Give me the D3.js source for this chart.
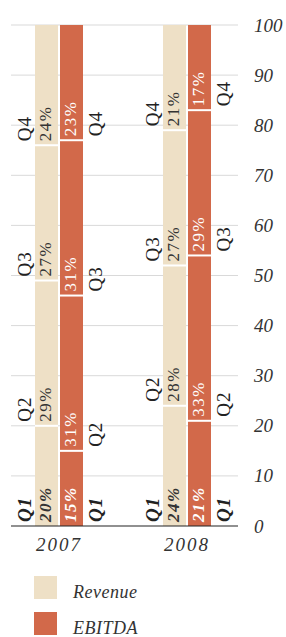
<!DOCTYPE html>
<html>
<head>
<meta charset="utf-8">
<script src="https://cdn.jsdelivr.net/npm/d3@7"></script>
<style>
  body { margin: 0; background: #fff; }
  svg { display: block; font-family: "Liberation Serif", serif; font-style: italic; }
</style>
</head>
<body>
<svg id="chart"></svg>
<script>
// Données
const years = ["2007", "2008"];
const series = ["Revenue", "EBITDA"];
const quarters = ["Q1", "Q2", "Q3", "Q4"];
const revenue = [[20, 29, 27, 24], [24, 28, 27, 21]];
const ebitda = [[15, 31, 31, 23], [21, 33, 29, 17]];
const yTicks = [0, 10, 20, 30, 40, 50, 60, 70, 80, 90, 100];

const colors = { Revenue: "#eee0c6", EBITDA: "#d2694a" };
const width = 286, height = 637;

const svg = d3.select("#chart")
    .attr("width", width)
    .attr("height", height);

// Échelles
const y = d3.scaleLinear().domain([0, 100]).range([526, 25]);
const x0 = d3.scaleBand().domain(years).range([35, 211]).paddingInner(0.625);
const x1 = d3.scaleBand().domain(series).range([0, x0.bandwidth()]).paddingInner(0.08);

// Grille
svg.append("g").selectAll("line")
    .data(yTicks.filter(t => t > 0))
    .join("line")
    .attr("x1", 11).attr("x2", 238)
    .attr("y1", d => y(d)).attr("y2", d => y(d))
    .attr("stroke", "#d9d9d9").attr("stroke-width", 1);

// Axe de droite
const axis = svg.append("g")
    .attr("transform", "translate(246,0)")
    .call(d3.axisRight(y).tickValues(yTicks).tickSize(0).tickPadding(8));
axis.select(".domain").remove();
axis.selectAll("text")
    .attr("font-family", "Liberation Serif, serif")
    .attr("font-style", "italic")
    .attr("font-size", 19)
    .attr("fill", "#333");

// Segments empilés
const segs = [];
years.forEach((yr, i) => {
  series.forEach(s => {
    const vals = s === "Revenue" ? revenue[i] : ebitda[i];
    let acc = 0;
    vals.forEach((v, q) => {
      segs.push({ year: yr, series: s, q: q, v: v, y0: acc, y1: acc + v });
      acc += v;
    });
  });
});

const bx = d => x0(d.year) + x1(d.series);

svg.append("g").selectAll("rect")
    .data(segs)
    .join("rect")
    .attr("x", bx)
    .attr("y", d => y(d.y1))
    .attr("width", x1.bandwidth())
    .attr("height", d => y(d.y0) - y(d.y1))
    .attr("fill", d => colors[d.series]);

// Séparateurs blancs
svg.append("g").selectAll("rect")
    .data(segs.filter(d => d.y0 > 0))
    .join("rect")
    .attr("x", bx)
    .attr("y", d => y(d.y0) - 1)
    .attr("width", x1.bandwidth())
    .attr("height", 2)
    .attr("fill", "#fff");

// Étiquettes des pourcentages
svg.append("g").selectAll("text")
    .data(segs)
    .join("text")
    .attr("transform", d => `translate(${bx(d) + x1.bandwidth() / 2 - 1},${y(d.y0) - 4}) rotate(-90)`)
    .attr("dy", "0.35em")
    .attr("font-size", 17)
    .attr("letter-spacing", 1.5)
    .attr("font-weight", d => d.q === 0 ? "bold" : "normal")
    .attr("font-style", d => d.q === 0 ? "italic" : "normal")
    .attr("fill", d => d.series === "EBITDA" ? "#fff" : "#333")
    .text(d => d.v + "%");

// Étiquettes des trimestres
svg.append("g").selectAll("text")
    .data(segs)
    .join("text")
    .attr("transform", d => {
      const cx = d.series === "Revenue" ? bx(d) - 11 : bx(d) + x1.bandwidth() + 12;
      return `translate(${cx},${y(d.y0) - 4}) rotate(-90)`;
    })
    .attr("dy", "0.35em")
    .attr("font-size", 19)
    .attr("letter-spacing", 1)
    .attr("font-weight", d => d.q === 0 ? "bold" : "normal")
    .attr("font-style", d => d.q === 0 ? "italic" : "normal")
    .attr("fill", "#222")
    .text(d => quarters[d.q]);

// Ligne de base
svg.append("line")
    .attr("x1", 11).attr("x2", 238)
    .attr("y1", y(0)).attr("y2", y(0))
    .attr("stroke", "#222").attr("stroke-width", 1.2);

// Années
svg.append("g").selectAll("text")
    .data(years)
    .join("text")
    .attr("x", d => x0(d) + x0.bandwidth() / 2)
    .attr("y", 551)
    .attr("text-anchor", "middle")
    .attr("font-size", 19)
    .attr("letter-spacing", 2)
    .attr("fill", "#333")
    .text(d => d);

// Légende
const legend = svg.append("g").selectAll("g")
    .data(series)
    .join("g")
    .attr("transform", (d, i) => `translate(34,${576 + i * 36})`);
legend.append("rect")
    .attr("width", 23).attr("height", 23)
    .attr("fill", d => colors[d]);
legend.append("text")
    .attr("x", 39).attr("y", 22)
    .attr("font-size", 18)
    .attr("letter-spacing", 0.5)
    .attr("fill", "#333")
    .text(d => d);
</script>
</body>
</html>
